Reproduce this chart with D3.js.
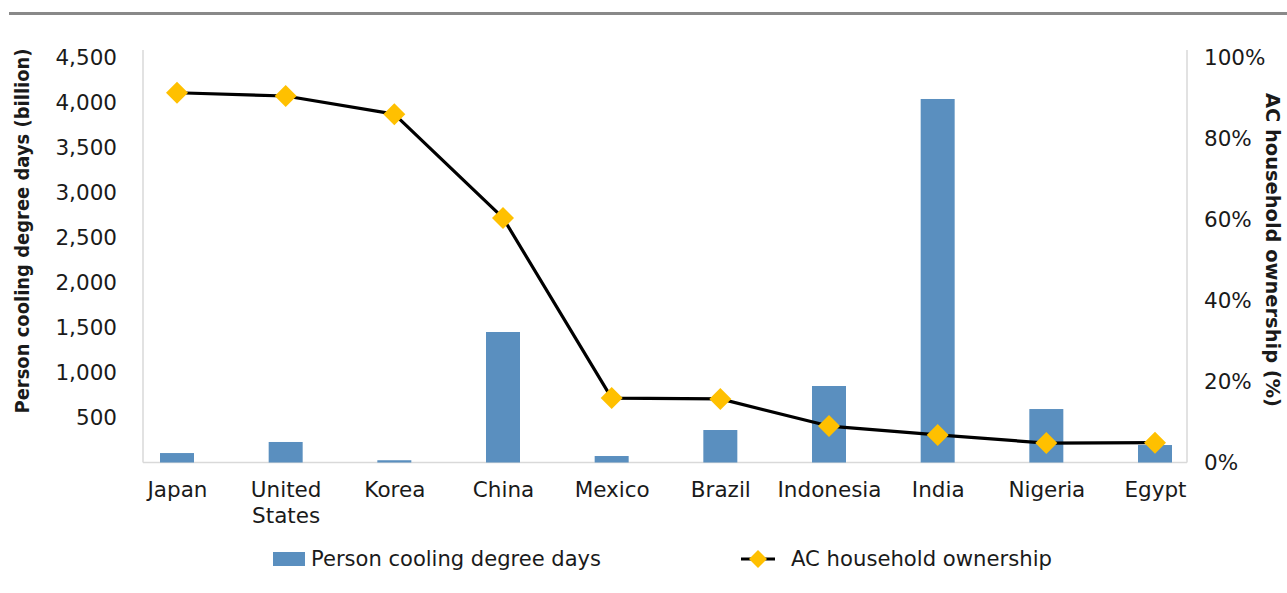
<!DOCTYPE html>
<html>
<head>
<meta charset="utf-8">
<script src="https://cdn.jsdelivr.net/npm/d3@7"></script>
<style>
  body { margin: 0; background: #fff; }
  svg { display: block; font-family: "DejaVu Sans", sans-serif; }
</style>
</head>
<body>
<div id="chart"></div>
<script>
// data
const countries = ['Japan', 'United States', 'Korea', 'China', 'Mexico', 'Brazil', 'Indonesia', 'India', 'Nigeria', 'Egypt'];
const coolingDays = [105, 228, 25, 1450, 72, 361, 850, 4039, 594, 194];
const acOwnership = [0.913, 0.905, 0.86, 0.604, 0.159, 0.157, 0.09, 0.068, 0.048, 0.049];
const leftTicks = [500, 1000, 1500, 2000, 2500, 3000, 3500, 4000, 4500];
const rightTicks = [0, 0.2, 0.4, 0.6, 0.8, 1];

const BAR = '#5a8fbf';
const GOLD = '#ffc000';
const TEXT = '#1a1a1a';
const W = 1287, H = 593;

const svg = d3.select('#chart').append('svg')
  .attr('width', W).attr('height', H);

// top rule
svg.append('line')
  .attr('x1', 9).attr('x2', W).attr('y1', 13.5).attr('y2', 13.5)
  .attr('stroke', '#898989').attr('stroke-width', 3);

const plot = { left: 143, right: 1187, top: 50, bottom: 462.5 };

const x = d3.scalePoint().domain(countries).range([177, 1155]);
const yL = d3.scaleLinear().domain([0, 4500]).range([plot.bottom, 57.5]);
const yR = d3.scaleLinear().domain([0, 1]).range([plot.bottom, 57.5]);

// frame lines
const frame = svg.append('g').attr('stroke', '#d9d9d9').attr('stroke-width', 1.5);
frame.append('line').attr('x1', plot.left).attr('x2', plot.left).attr('y1', plot.top).attr('y2', plot.bottom);
frame.append('line').attr('x1', plot.right).attr('x2', plot.right).attr('y1', plot.top).attr('y2', plot.bottom);
frame.append('line').attr('x1', plot.left).attr('x2', plot.right).attr('y1', plot.bottom).attr('y2', plot.bottom);

// axes
svg.append('g')
  .attr('transform', `translate(${plot.left},0)`)
  .call(d3.axisLeft(yL).tickValues(leftTicks).tickSize(0).tickPadding(26).tickFormat(d3.format(',')))
  .call(g => g.select('.domain').remove())
  .call(g => g.selectAll('.tick text').attr('fill', TEXT).attr('font-size', 21.5).attr('font-family', 'DejaVu Sans'));

svg.append('g')
  .attr('transform', `translate(${plot.right},0)`)
  .call(d3.axisRight(yR).tickValues(rightTicks).tickSize(0).tickPadding(17).tickFormat(d3.format('.0%')))
  .call(g => g.select('.domain').remove())
  .call(g => g.selectAll('.tick text').attr('fill', TEXT).attr('font-size', 21.5).attr('font-family', 'DejaVu Sans'));

const xAxis = svg.append('g')
  .attr('transform', `translate(0,${plot.bottom})`)
  .call(d3.axisBottom(x).tickSize(0).tickPadding(0))
  .call(g => g.select('.domain').remove());

xAxis.selectAll('.tick text')
  .attr('fill', TEXT).attr('font-size', 21.5).attr('font-family', 'DejaVu Sans')
  .attr('dy', null).attr('y', 0)
  .each(function(d) {
    const t = d3.select(this).text(null);
    d.split(' ').forEach((w, i) => {
      t.append('tspan').attr('x', 0).attr('y', 34 + i * 26).text(w);
    });
  });

// bars
svg.append('g').selectAll('rect')
  .data(countries)
  .join('rect')
  .attr('x', d => x(d) - 17)
  .attr('width', 34)
  .attr('y', (d, i) => yL(coolingDays[i]))
  .attr('height', (d, i) => plot.bottom - yL(coolingDays[i]))
  .attr('fill', BAR);

// ownership line
const line = d3.line()
  .x(d => x(d))
  .y((d, i) => yR(acOwnership[i]));

svg.append('path')
  .datum(countries)
  .attr('d', line)
  .attr('fill', 'none')
  .attr('stroke', '#000')
  .attr('stroke-width', 3.2)
  .attr('stroke-linejoin', 'round');

const diamond = s => `M0,${-s}L${s},0L0,${s}L${-s},0Z`;

svg.append('g').selectAll('path')
  .data(countries)
  .join('path')
  .attr('transform', (d, i) => `translate(${x(d)},${yR(acOwnership[i])})`)
  .attr('d', diamond(11))
  .attr('fill', GOLD);

// axis titles
function fitText(sel, len) {
  sel.attr('textLength', len).attr('lengthAdjust', 'spacingAndGlyphs');
}

svg.append('text')
  .attr('transform', 'translate(29,231) rotate(-90)')
  .attr('text-anchor', 'middle')
  .attr('font-size', 20).attr('font-weight', 'bold').attr('fill', TEXT)
  .text('Person cooling degree days (billion)')
  .call(fitText, 365);

svg.append('text')
  .attr('transform', 'translate(1266,250) rotate(90)')
  .attr('text-anchor', 'middle')
  .attr('font-size', 20).attr('font-weight', 'bold').attr('fill', TEXT)
  .text('AC household ownership (%)')
  .call(fitText, 314);

// legend
const legend = svg.append('g').attr('font-size', 21).attr('fill', TEXT);
legend.append('rect').attr('x', 273).attr('y', 552).attr('width', 32).attr('height', 14).attr('fill', BAR);
legend.append('text').attr('x', 311).attr('y', 558).attr('dy', '0.36em')
  .attr('fill', TEXT).text('Person cooling degree days').call(fitText, 290);

legend.append('line').attr('x1', 741).attr('x2', 775).attr('y1', 559).attr('y2', 559)
  .attr('stroke', '#000').attr('stroke-width', 3.2);
legend.append('path').attr('transform', 'translate(758,559)').attr('d', diamond(9)).attr('fill', GOLD);
legend.append('text').attr('x', 791).attr('y', 558).attr('dy', '0.36em')
  .attr('fill', TEXT).text('AC household ownership').call(fitText, 261);
</script>
</body>
</html>
